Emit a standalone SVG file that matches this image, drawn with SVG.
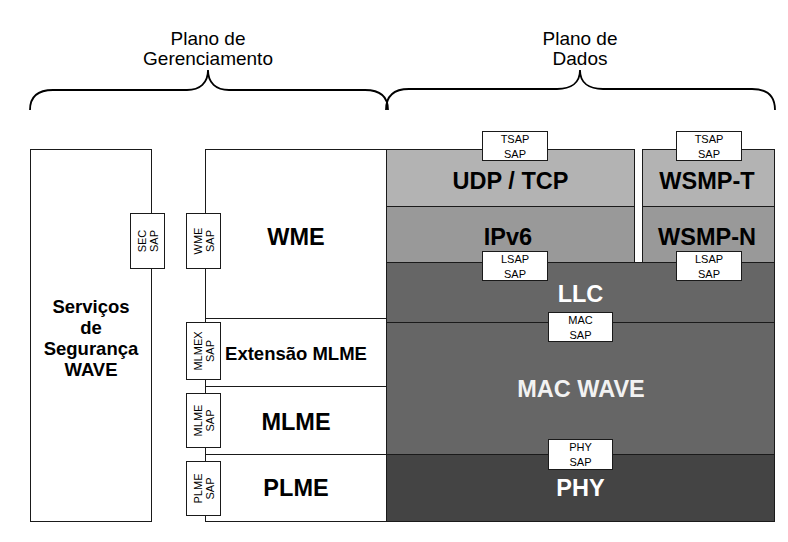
<svg xmlns="http://www.w3.org/2000/svg" width="788" height="542" viewBox="0 0 788 542">
<style>
  .box { stroke: #1a1a1a; stroke-width: 1; }
  .w { fill: #ffffff; }
  .g1 { fill: #b3b3b3; }
  .g2 { fill: #999999; }
  .g3 { fill: #666666; }
  .g4 { fill: #444444; }
  .big { font-family: "Liberation Sans", Arial, sans-serif; font-weight: bold; font-size: 23.5px; text-anchor: middle; }
  .mid { font-family: "Liberation Sans", Arial, sans-serif; font-weight: bold; font-size: 18.5px; text-anchor: middle; }
  .sap { font-family: "Liberation Sans", Arial, sans-serif; font-size: 11px; text-anchor: middle; fill: #000; }
  .hdr { font-family: "Liberation Sans", Arial, sans-serif; font-size: 19px; text-anchor: middle; fill: #000; }
  .brace { fill: none; stroke: #000; stroke-width: 1.8; }
  .dark { fill: #000; }
  .light { fill: #ffffff; }
</style>

<g id="braces">
  <path class="brace" d="M30,110 C30,96 38,90 53,90 L187,90 C200,90 208,83 208,70 C208,83 216,90 229,90 L365,90 C380,90 388,96 388,110"/>
  <path class="brace" d="M386,110 C386,96 394,89 409,89 L557,89 C571,89 580,83 580,70 C580,83 589,89 603,89 L752,89 C767,89 775,96 775,110"/>
  <text class="hdr" x="208" y="45">Plano de</text>
  <text class="hdr" x="208" y="64.5">Gerenciamento</text>
  <text class="hdr" x="580" y="45">Plano de</text>
  <text class="hdr" x="580" y="64.5">Dados</text>
</g>

<g id="seguranca">
  <rect class="box w" x="30.5" y="149.5" width="121" height="372"/>
  <text class="mid dark" x="91" y="313" font-size="18">Serviços</text>
  <text class="mid dark" x="91" y="334" font-size="18">de</text>
  <text class="mid dark" x="91" y="355" font-size="18">Segurança</text>
  <text class="mid dark" x="91" y="376" font-size="18">WAVE</text>
</g>

<g id="wme">
  <rect class="box w" x="205.5" y="149.5" width="181" height="169"/>
  <text class="big dark" x="296" y="245">WME</text>
</g>
<g id="extensao-mlme">
  <rect class="box w" x="205.5" y="318.5" width="181" height="68"/>
  <text class="mid dark" x="296" y="359.5">Extensão MLME</text>
</g>
<g id="mlme">
  <rect class="box w" x="205.5" y="386.5" width="181" height="68"/>
  <text class="big dark" x="296" y="429.5">MLME</text>
</g>
<g id="plme">
  <rect class="box w" x="205.5" y="454.5" width="181" height="67"/>
  <text class="big dark" x="296" y="496">PLME</text>
</g>

<g id="udp-tcp">
  <rect class="box g1" x="386.5" y="149.5" width="248" height="57"/>
  <text class="big dark" x="510.5" y="188.5">UDP / TCP</text>
</g>
<g id="ipv6">
  <rect class="box g2" x="386.5" y="206.5" width="248" height="56"/>
  <text class="big dark" x="508" y="244.5">IPv6</text>
</g>
<g id="wsmp-t">
  <rect class="box g1" x="642.5" y="149.5" width="132" height="57"/>
  <text class="big dark" x="707" y="188.5">WSMP-T</text>
</g>
<g id="wsmp-n">
  <rect class="box g2" x="642.5" y="206.5" width="132" height="56"/>
  <text class="big dark" x="707" y="244.5">WSMP-N</text>
</g>
<g id="llc">
  <rect class="box g3" x="386.5" y="262.5" width="388" height="60"/>
  <text class="big light" x="580.5" y="302">LLC</text>
</g>
<g id="mac-wave">
  <rect class="box g3" x="386.5" y="322.5" width="388" height="132"/>
  <text class="big" x="581" y="397" fill="#f2f2f2">MAC WAVE</text>
</g>
<g id="phy">
  <rect class="box g4" x="386.5" y="454.5" width="388" height="67"/>
  <text class="big light" x="580.5" y="496">PHY</text>
</g>

<g id="tsap-1">
  <rect class="box w" x="482.5" y="131.5" width="65" height="29"/>
  <text class="sap" x="515" y="142.5">TSAP</text>
  <text class="sap" x="515" y="157.5">SAP</text>
</g>
<g id="tsap-2">
  <rect class="box w" x="676.5" y="131.5" width="65" height="29"/>
  <text class="sap" x="709" y="142.5">TSAP</text>
  <text class="sap" x="709" y="157.5">SAP</text>
</g>
<g id="lsap-1">
  <rect class="box w" x="482.5" y="251.5" width="65" height="29"/>
  <text class="sap" x="515" y="262.5">LSAP</text>
  <text class="sap" x="515" y="277.5">SAP</text>
</g>
<g id="lsap-2">
  <rect class="box w" x="676.5" y="251.5" width="65" height="29"/>
  <text class="sap" x="709" y="262.5">LSAP</text>
  <text class="sap" x="709" y="277.5">SAP</text>
</g>
<g id="mac-sap">
  <rect class="box w" x="548.5" y="312.5" width="64" height="29"/>
  <text class="sap" x="580.5" y="323.5">MAC</text>
  <text class="sap" x="580.5" y="338.5">SAP</text>
</g>
<g id="phy-sap">
  <rect class="box w" x="548.5" y="439.5" width="64" height="30"/>
  <text class="sap" x="580.5" y="451">PHY</text>
  <text class="sap" x="580.5" y="466">SAP</text>
</g>

<g id="sec-sap">
  <rect class="box w" x="130.5" y="213.5" width="34" height="55"/>
  <g transform="translate(147.5,241) rotate(-90)">
    <text class="sap" x="0" y="-1.5">SEC</text>
    <text class="sap" x="0" y="10.5">SAP</text>
  </g>
</g>
<g id="wme-sap">
  <rect class="box w" x="186.5" y="213.5" width="34" height="55"/>
  <g transform="translate(203.5,241) rotate(-90)">
    <text class="sap" x="0" y="-1.5">WME</text>
    <text class="sap" x="0" y="10.5">SAP</text>
  </g>
</g>
<g id="mlmex-sap">
  <rect class="box w" x="186.5" y="322.5" width="34" height="57"/>
  <g transform="translate(203.5,351) rotate(-90)">
    <text class="sap" x="0" y="-1.5" font-size="10">MLMEX</text>
    <text class="sap" x="0" y="10.5" font-size="10">SAP</text>
  </g>
</g>
<g id="mlme-sap">
  <rect class="box w" x="186.5" y="393.5" width="34" height="54"/>
  <g transform="translate(203.5,420.5) rotate(-90)">
    <text class="sap" x="0" y="-1.5">MLME</text>
    <text class="sap" x="0" y="10.5">SAP</text>
  </g>
</g>
<g id="plme-sap">
  <rect class="box w" x="186.5" y="461.5" width="34" height="54"/>
  <g transform="translate(203.5,488.5) rotate(-90)">
    <text class="sap" x="0" y="-1.5">PLME</text>
    <text class="sap" x="0" y="10.5">SAP</text>
  </g>
</g>
</svg>
